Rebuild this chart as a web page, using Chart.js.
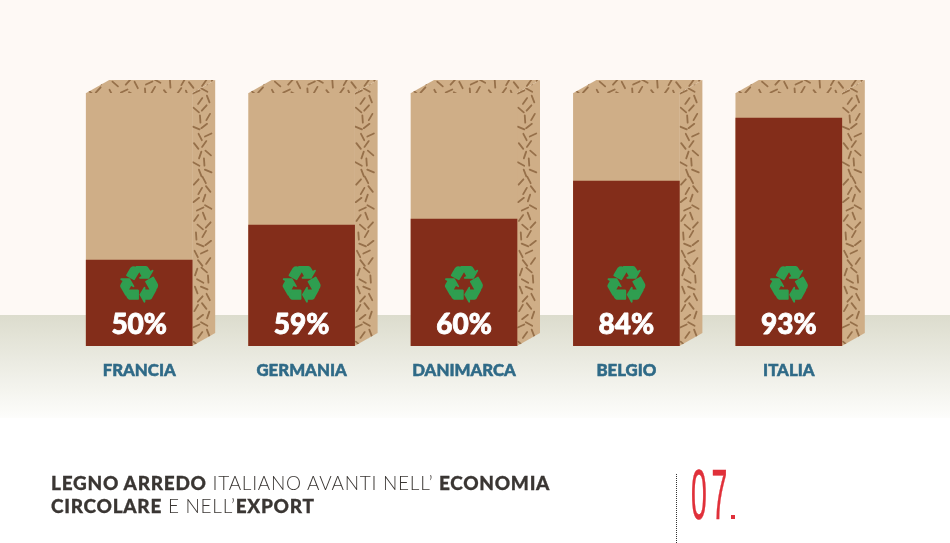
<!DOCTYPE html>
<html>
<head>
<meta charset="utf-8">
<script src="https://cdn.jsdelivr.net/npm/chart.js@4"></script>
<style>
  html, body { margin: 0; padding: 0; }
  body {
    width: 950px; height: 543px; position: relative; overflow: hidden;
    background: linear-gradient(to bottom, #fef9f5 0, #fef9f5 315px, #dcdccd 315px, #fdfdfb 418px, #ffffff 418px);
  }
  canvas { position: absolute; left: 0; top: 0; }
  #title {
    position: absolute; left: 51px; top: 471px; width: 560px;
    font: 300 19px/23px Lato, sans-serif; color: #3a3633; letter-spacing: 0.72px;
  }
  #title b { font-weight: 900; -webkit-text-stroke: 0.3px #3a3633; }
  #sep { position: absolute; left: 676px; top: 474px; height: 69px; border-left: 1px dotted #333; }
  #num {
    position: absolute; left: 691px; top: 455px;
    font: 400 71px/80px "Liberation Sans Narrow", "Liberation Sans", sans-serif; color: #e0303a;
    transform: scaleX(0.4); transform-origin: left top; letter-spacing: 12px;
    -webkit-text-stroke: 0.6px #e0303a;
  }
  #dot { position: absolute; left: 731px; top: 515px; width: 4px; height: 4px; background: #e0303a; }
</style>
</head>
<body>
<canvas id="chart" width="950" height="543"></canvas>
<div id="title"><b>LEGNO ARREDO</b> ITALIANO AVANTI NELL’ <b>ECONOMIA<br>CIRCOLARE</b> E NELL’<b>EXPORT</b></div>
<div id="sep"></div>
<div id="num">07</div>
<div id="dot"></div>
<script>
const countries = ['FRANCIA', 'GERMANIA', 'DANIMARCA', 'BELGIO', 'ITALIA'];
const percents = [50, 59, 60, 84, 93];
// the bars in the picture are not to scale with their labels, so heights are read separately
const fillHeights = [34, 47.8, 50.2, 65.2, 90.1];
const boxHeights = [100, 100, 100, 100, 100];

const dashAngles = [0.9, 2.2, 1.2, 0.4, 2.5, 1.9, 0.7, 2.3, 1.1, 2.7, 0.5, 1.5, 2.1];

function hatch(ctx, pts) {
  ctx.save();
  ctx.beginPath();
  pts.forEach((p, i) => i ? ctx.lineTo(p[0], p[1]) : ctx.moveTo(p[0], p[1]));
  ctx.closePath();
  ctx.fillStyle = '#cfae87';
  ctx.fill();
  ctx.clip();
  const xs = pts.map(p => p[0]), ys = pts.map(p => p[1]);
  const x0 = Math.min(...xs), x1 = Math.max(...xs), y0 = Math.min(...ys), y1 = Math.max(...ys);
  ctx.strokeStyle = '#96704a';
  ctx.lineWidth = 1.8;
  ctx.lineCap = 'round';
  let n = 0;
  for (let y = y0 + 3; y < y1; y += 9) {
    n += 3;
    for (let x = x0 + 3 + (n % 2) * 4; x < x1; x += 11) {
      n += 1;
      const a = dashAngles[n % dashAngles.length];
      const dx = Math.cos(a) * 3.6, dy = Math.sin(a) * 3.6;
      const ox = (n * 7 % 5) - 2, oy = (n * 3 % 5) - 2;
      ctx.beginPath();
      ctx.moveTo(x + ox - dx, y + oy - dy);
      ctx.lineTo(x + ox + dx, y + oy + dy);
      ctx.stroke();
    }
  }
  ctx.restore();
}

const boxSides = {
  id: 'boxSides',
  beforeDatasetsDraw(chart) {
    const ctx = chart.ctx;
    const top = chart.scales.y.getPixelForValue(100), bottom = chart.scales.y.getPixelForValue(0);
    chart.getDatasetMeta(1).data.forEach(bar => {
      const l = bar.x - bar.width / 2, r = bar.x + bar.width / 2;
      hatch(ctx, [[l, top], [l + 23, top - 13], [r + 23, top - 13], [r, top]]);
      hatch(ctx, [[r, top], [r + 23, top - 13], [r + 23, bottom - 13], [r, bottom]]);
    });
  }
};

const barTexts = {
  id: 'barTexts',
  afterDatasetsDraw(chart) {
    const ctx = chart.ctx;
    const bottom = chart.scales.y.getPixelForValue(0);
    ctx.save();
    ctx.textAlign = 'center';
    ctx.textBaseline = 'middle';
    ctx.lineJoin = 'round';
    chart.getDatasetMeta(0).data.forEach((bar, i) => {
      ctx.fillStyle = ctx.strokeStyle = '#2f9e50';
      ctx.font = '50px "DejaVu Sans"';
      ctx.lineWidth = 1.6;
      ctx.fillText('\u267B', bar.x, bottom - 57);
      ctx.strokeText('\u267B', bar.x, bottom - 57);
      ctx.fillStyle = ctx.strokeStyle = '#ffffff';
      ctx.font = '900 28px Lato, sans-serif';
      ctx.lineWidth = 0.8;
      ctx.fillText(percents[i] + '%', bar.x, bottom - 21);
      ctx.strokeText(percents[i] + '%', bar.x, bottom - 21);
    });
    ctx.restore();
  }
};

new Chart(document.getElementById('chart').getContext('2d'), {
  type: 'bar',
  data: {
    labels: countries,
    datasets: [
      { label: 'Legno riciclato', data: fillHeights, backgroundColor: '#832d1a', order: 1 },
      { label: 'Totale', data: boxHeights, backgroundColor: '#cfae87', order: 2 }
    ]
  },
  plugins: [boxSides, barTexts],
  options: {
    responsive: false,
    animation: false,
    layout: { padding: { left: 58, right: 80, top: 93, bottom: 157 } },
    datasets: { bar: { grouped: false, barThickness: 106 } },
    scales: {
      x: {
        afterFit(scale) { scale.height = 40; },
        grid: { display: false },
        border: { display: false },
        ticks: {
          color: '#2f6a87',
          font: { family: 'Lato', size: 16.8, weight: '900' },
          textStrokeColor: '#2f6a87',
          textStrokeWidth: 0.5,
          padding: 7,
          autoSkip: false,
          maxRotation: 0
        }
      },
      y: { display: false, min: 0, max: 100 }
    },
    plugins: { legend: { display: false }, tooltip: { enabled: false } }
  }
});
</script>
</body>
</html>
